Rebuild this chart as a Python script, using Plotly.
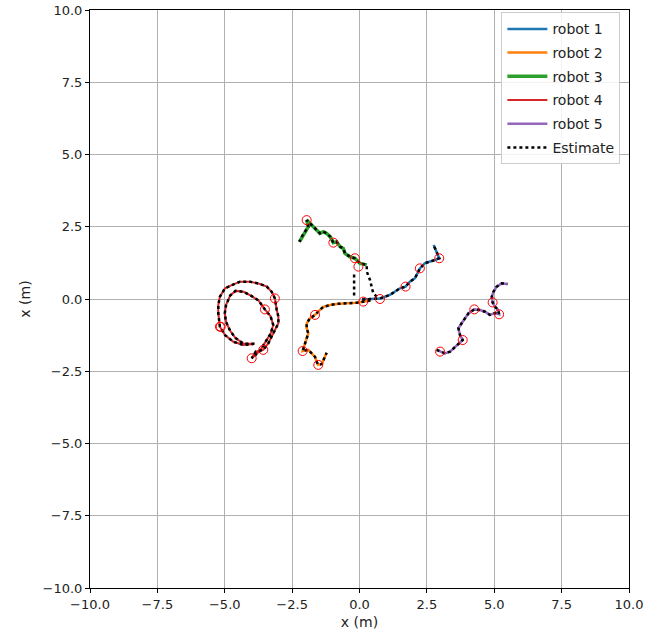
import plotly.graph_objects as go

# ---------------- data (metres) ----------------
r1_x = [0.10, 0.40, 0.76, 1.13, 1.32, 1.50, 1.71, 1.87, 2.06, 2.24, 2.43, 2.62, 2.80, 2.96, 2.86, 2.80, 2.75]
r1_y = [-0.02, 0.00, 0.02, 0.14, 0.25, 0.37, 0.43, 0.60, 0.72, 1.06, 1.24, 1.29, 1.35, 1.41, 1.64, 1.81, 1.87]

r2_x = [0.40, 0.14, -0.10, -0.47, -0.85, -1.09, -1.34, -1.47, -1.65, -1.84, -1.96, -1.96, -1.90, -1.96, -2.02, -2.11,
        -1.90, -1.77, -1.65, -1.59, -1.53, -1.40, -1.34, -1.28, -1.22]
r2_y = [-0.05, -0.09, -0.13, -0.15, -0.17, -0.21, -0.27, -0.38, -0.55, -0.67, -0.84, -1.01, -1.19, -1.36, -1.53, -1.80,
        -1.76, -1.88, -2.00, -2.17, -2.28, -2.25, -2.11, -1.94, -1.86]

r3_x = [0.27, 0.02, -0.17, -0.35, -0.54, -0.60, -0.72, -0.85, -0.97, -1.09, -1.22, -1.34, -1.47, -1.59, -1.71, -1.84,
        -1.96, -1.90, -2.02, -2.14, -2.23]
r3_y = [1.18, 1.23, 1.41, 1.46, 1.58, 1.75, 1.81, 1.98, 1.95, 2.16, 2.27, 2.33, 2.27, 2.39, 2.50, 2.62,
        2.73, 2.50, 2.33, 2.16, 1.98]

r4_x = [-3.90, -4.30, -4.60, -4.80, -4.95, -5.00, -4.95, -4.80, -4.60, -4.30, -4.00, -3.75, -3.51, -3.30, -3.20,
        -3.30, -3.50, -3.70, -4.00, -3.85, -3.57, -3.38, -3.26, -3.14, -3.01, -3.01, -3.07, -3.14, -3.26, -3.44,
        -3.69, -4.06, -4.43, -4.74, -4.99, -5.18, -5.24, -5.24, -5.18, -4.99, -4.68, -4.31, -3.94]
r4_y = [-1.55, -1.55, -1.35, -1.10, -0.80, -0.50, -0.20, 0.12, 0.28, 0.25, 0.10, -0.05, -0.36, -0.60, -0.90,
        -1.20, -1.50, -1.80, -2.05, -1.82, -1.76, -1.53, -1.30, -1.07, -0.84, -0.61, -0.38, 0.02, 0.25, 0.43,
        0.52, 0.60, 0.60, 0.48, 0.37, 0.08, -0.21, -0.49, -0.96, -1.25, -1.48, -1.59, -1.56]

r5_x = [2.86, 2.99, 3.17, 3.36, 3.48, 3.61, 3.73, 3.83, 3.73, 3.67, 3.79, 3.91, 4.04, 4.26, 4.47, 4.66, 4.84, 5.03,
        5.18, 5.15, 5.03, 4.94, 4.91, 4.97, 5.09, 5.28, 5.49]
r5_y = [-1.76, -1.82, -1.88, -1.82, -1.71, -1.59, -1.48, -1.42, -1.25, -1.01, -0.84, -0.67, -0.50, -0.36, -0.38,
        -0.44, -0.55, -0.49, -0.53, -0.38, -0.27, -0.12, 0.08, 0.25, 0.43, 0.54, 0.52]

# extra estimate segments (drift near the origin)
est_extra1_x = [-0.20, -0.20, -0.20, -0.20]
est_extra1_y = [0.85, 0.60, 0.35, 0.10]
est_extra3_x = [0.64, 0.51, 0.45, 0.39, 0.27]
est_extra3_y = [0.08, 0.20, 0.43, 0.66, 0.95]

# observation circles
obs_x = [0.76, 1.71, 2.24, 2.96, 0.14, -1.65, -2.11, -1.53, -0.04, -0.17, -0.97, -1.96,
         -4.00, -3.57, -3.14, -3.51, -5.18, -5.15, 2.99, 3.83, 4.26, 5.18, 4.94]
obs_y = [0.00, 0.43, 1.06, 1.41, -0.09, -0.55, -1.80, -2.28, 1.12, 1.41, 1.95, 2.73,
         -2.05, -1.76, 0.02, -0.36, -0.96, -0.96, -1.82, -1.42, -0.36, -0.53, -0.12]

names = ["robot 1", "robot 2", "robot 3", "robot 4", "robot 5"]
colors = ["#1f77b4", "#ff7f0e", "#2ca02c", "#d62728", "#9467bd"]
tick_vals = [-10, -7.5, -5, -2.5, 0, 2.5, 5, 7.5, 10]
tick_text = ["−10.0", "−7.5", "−5.0", "−2.5", "0.0", "2.5", "5.0", "7.5", "10.0"]

# ---------------- figure ----------------
fig = go.Figure()
paths = [(r1_x, r1_y), (r2_x, r2_y), (r3_x, r3_y), (r4_x, r4_y), (r5_x, r5_y)]
widths = [2.5, 2.5, 3.5, 2, 2.5]
for (px, py), n, c, w in zip(paths, names, colors, widths):
    fig.add_trace(go.Scatter(x=px, y=py, mode="lines", name=n, legendgroup=n,
                             line=dict(color=c, width=w)))

est = [(est_extra1_x + [None] + r1_x, est_extra1_y + [None] + r1_y),
       (r2_x, r2_y),
       (est_extra3_x + r3_x, est_extra3_y + r3_y),
       (r4_x, r4_y),
       (r5_x, r5_y)]
for i, (ex, ey) in enumerate(est):
    fig.add_trace(go.Scatter(x=ex, y=ey, mode="lines", name="Estimate", legendgroup="est",
                             showlegend=(i == 0), connectgaps=False,
                             line=dict(color="black", width=2.5, dash="dot")))

fig.add_trace(go.Scatter(x=obs_x, y=obs_y, mode="markers", showlegend=False,
                         marker=dict(symbol="circle-open", size=9,
                                     color="red", line=dict(width=1))))

axis_common = dict(range=[-10, 10], tickvals=tick_vals, ticktext=tick_text,
                   showgrid=True, gridcolor="#b0b0b0", gridwidth=1,
                   showline=True, linecolor="black", linewidth=1, mirror=True,
                   ticks="outside", ticklen=4, tickcolor="black",
                   zeroline=False, automargin=False,
                   tickfont=dict(size=13, color="#222"),
                   title_font=dict(size=14, color="#222"))

fig.update_layout(
    width=647, height=640,
    margin=dict(l=90, r=18, t=10, b=52),
    paper_bgcolor="white", plot_bgcolor="white",
    font=dict(family="DejaVu Sans", color="#222"),
    xaxis=dict(title=dict(text="x (m)", standoff=6), **axis_common),
    yaxis=dict(title=dict(text="x (m)", standoff=8), **axis_common),
    legend=dict(x=0.984, y=0.996, xanchor="right", yanchor="top",
                bgcolor="rgba(255,255,255,0.85)", bordercolor="#cccccc",
                borderwidth=1, font=dict(size=14, color="#222"),
                tracegroupgap=2.5, itemwidth=40),
    showlegend=True,
)

fig.write_html("out.html")
